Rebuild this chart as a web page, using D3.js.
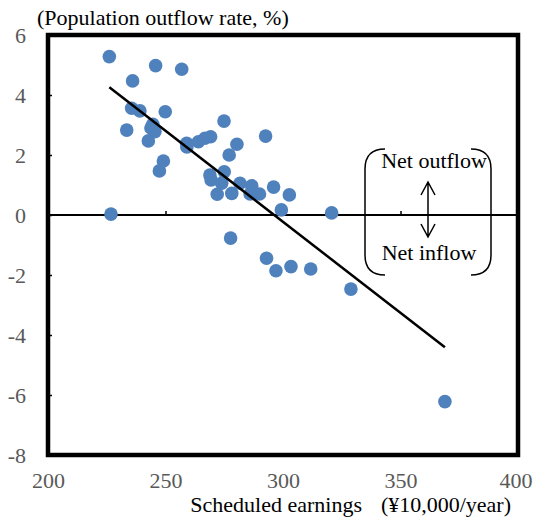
<!DOCTYPE html>
<html>
<head>
<meta charset="utf-8">
<script src="https://cdn.jsdelivr.net/npm/d3@7"></script>
<style>
body { margin: 0; background: #fff; }
text { font-family: "Liberation Serif", "Times New Roman", serif; }
</style>
</head>
<body>
<svg id="chart" width="533" height="517"></svg>
<script>
// earnings (10,000 yen/year) and outflow rate (%) per prefecture
var earnings = [226.1, 245.8, 256.9, 236.0, 235.6, 239.1, 249.9, 233.5, 244.6, 243.8,
	245.5, 242.7, 274.9, 259.0, 259.1, 264.0, 266.8, 269.2, 292.6, 280.4,
	277.1, 249.1, 247.4, 268.9, 269.4, 275.0, 273.9, 272.0, 281.7, 286.7,
	278.2, 286.0, 290.0, 296.0, 302.7, 299.3, 320.7, 226.8, 277.7, 293.0,
	297.0, 303.4, 311.8, 328.9, 368.9];
var outflow = [5.28, 4.98, 4.86, 4.47, 3.56, 3.47, 3.44, 2.83, 3.02, 2.90,
	2.78, 2.47, 3.13, 2.39, 2.27, 2.44, 2.56, 2.61, 2.63, 2.36,
	2.00, 1.80, 1.47, 1.33, 1.17, 1.44, 1.06, 0.69, 1.06, 0.97,
	0.72, 0.70, 0.70, 0.93, 0.67, 0.17, 0.07, 0.03, -0.77, -1.44,
	-1.86, -1.72, -1.80, -2.47, -6.22];
// linear trend endpoints
var trendX = [226.1, 368.9];
var trendY = [4.26, -4.41];
var xTicks = [200, 250, 300, 350, 400];
var yTicks = [-8, -6, -4, -2, 0, 2, 4, 6];

var svg = d3.select("#chart");
var pLeft = 48, pRight = 518, pTop = 35, pBottom = 455;
var fs = "22px";

var x = d3.scaleLinear().domain([200, 400]).range([pLeft, pRight]);
var y = d3.scaleLinear().domain([-8, 6]).range([pBottom, pTop]);

// y axis: ticks inside, labels on the left
var yAxis = svg.append("g")
	.attr("transform", "translate(" + pLeft + ",0)")
	.call(d3.axisLeft(y).tickValues(yTicks).tickSize(-4).tickPadding(22).tickFormat(function(d){ return String(d); }));
yAxis.select(".domain").remove();
yAxis.selectAll("line").attr("stroke", "#000").attr("stroke-width", 1.5);
yAxis.selectAll("text")
	.attr("fill", "#595959")
	.style("font-size", fs)
	.style("font-family", "Liberation Serif");

// x axis labels at the bottom
var xLabels = svg.append("g")
	.attr("transform", "translate(0," + pBottom + ")")
	.call(d3.axisBottom(x).tickValues(xTicks).tickSize(0).tickPadding(17).tickFormat(function(d){ return String(d); }));
xLabels.select(".domain").remove();
xLabels.selectAll("text")
	.attr("fill", "#595959")
	.style("font-size", fs)
	.style("font-family", "Liberation Serif");
// keep the last label inside the page
xLabels.selectAll("text").filter(function(d){ return d == 400; })
	.attr("text-anchor", "end")
	.attr("x", 532 - pRight);

// x axis line on zero with small ticks pointing up
var xAxis = svg.append("g")
	.attr("transform", "translate(0," + y(0) + ")")
	.call(d3.axisTop(x).tickValues([250, 300, 350]).tickSize(4).tickFormat(""));
xAxis.select(".domain").remove();
xAxis.selectAll("line").attr("stroke", "#000").attr("stroke-width", 1.5);

svg.append("line")
	.attr("x1", pLeft).attr("x2", pRight)
	.attr("y1", y(0)).attr("y2", y(0))
	.attr("stroke", "#000")
	.attr("stroke-width", 2);

// points
var points = earnings.map(function(d, i){ return {x: d, y: outflow[i]}; });
svg.append("g").selectAll("circle")
	.data(points)
	.enter().append("circle")
	.attr("cx", function(d){ return x(d.x); })
	.attr("cy", function(d){ return y(d.y); })
	.attr("r", 6.8)
	.style("fill", "#4f81bd");

// trend line
var trend = trendX.map(function(d, i){ return {x: d, y: trendY[i]}; });
svg.append("path")
	.attr("d", d3.line().x(function(d){ return x(d.x); }).y(function(d){ return y(d.y); })(trend))
	.attr("stroke", "#000")
	.attr("stroke-width", 2.5)
	.attr("fill", "none");

// annotation: bracket, arrow and labels
var ann = svg.append("g");
var bl = 365, br = 491, bt = 149, bb = 275, r = 20;
ann.append("path")
	.attr("d", "M" + (bl + r) + "," + bt + " Q" + bl + "," + bt + " " + bl + "," + (bt + r) +
		" L" + bl + "," + (bb - r) + " Q" + bl + "," + bb + " " + (bl + r) + "," + bb)
	.attr("stroke", "#000").attr("stroke-width", 1.5).attr("fill", "none");
ann.append("path")
	.attr("d", "M" + (br - r) + "," + bt + " Q" + br + "," + bt + " " + br + "," + (bt + r) +
		" L" + br + "," + (bb - r) + " Q" + br + "," + bb + " " + (br - r) + "," + bb)
	.attr("stroke", "#000").attr("stroke-width", 1.5).attr("fill", "none");
var ax = 428, ay1 = 182, ay2 = 237;
ann.append("path")
	.attr("d", "M" + ax + "," + ay1 + " L" + ax + "," + ay2 +
		" M" + (ax - 7) + "," + (ay1 + 13) + " L" + ax + "," + ay1 + " L" + (ax + 7) + "," + (ay1 + 13) +
		" M" + (ax - 7) + "," + (ay2 - 13) + " L" + ax + "," + ay2 + " L" + (ax + 7) + "," + (ay2 - 13))
	.attr("stroke", "#000").attr("stroke-width", 1.5).attr("fill", "none");
ann.append("text").attr("x", 434).attr("y", 168)
	.attr("text-anchor", "middle").style("font-size", fs).style("fill", "#000")
	.text("Net outflow");
ann.append("text").attr("x", 429).attr("y", 260)
	.attr("text-anchor", "middle").style("font-size", fs).style("fill", "#000")
	.text("Net inflow");

// plot frame
svg.append("rect")
	.attr("x", pLeft).attr("y", pTop)
	.attr("width", pRight - pLeft).attr("height", pBottom - pTop)
	.attr("fill", "none")
	.attr("stroke", "#000")
	.attr("stroke-width", 4.5);

// titles
svg.append("text").attr("x", 37).attr("y", 25)
	.style("font-size", fs).style("fill", "#000")
	.text("(Population outflow rate, %)");
svg.append("text").attr("x", 511).attr("y", 512)
	.attr("text-anchor", "end").style("font-size", fs).style("fill", "#000")
	.text("(¥10,000/year)");
svg.append("text").attr("x", 362).attr("y", 512)
	.attr("text-anchor", "end").style("font-size", fs).style("fill", "#000")
	.text("Scheduled earnings");
</script>
</body>
</html>
